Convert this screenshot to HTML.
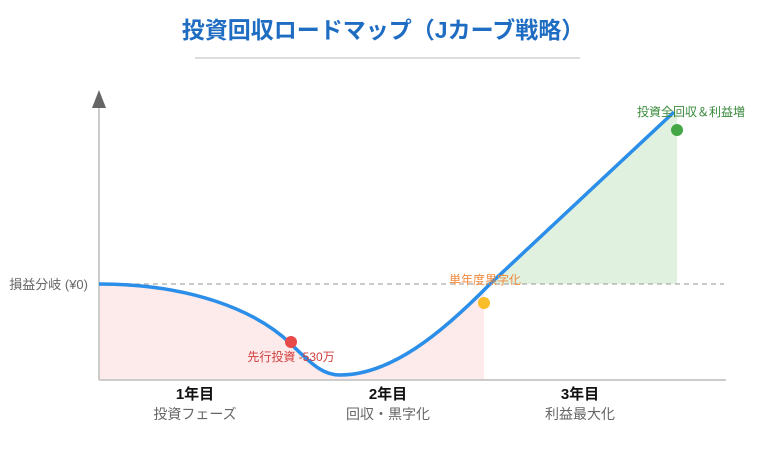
<!DOCTYPE html>
<html><head><meta charset="utf-8"><style>
body{margin:0;background:#fff;}
svg{display:block;font-family:"Liberation Sans","Noto Sans CJK JP",sans-serif;}
</style></head><body>
<svg width="759" height="449" viewBox="0 0 759 449">
<text x="383" y="38" text-anchor="middle" font-size="23" font-weight="bold" fill="#1f6dc2">投資回収ロードマップ（Jカーブ戦略）</text>
<line x1="195" y1="58" x2="580" y2="58" stroke="#ddd" stroke-width="2"/>
<clipPath id="c"><rect x="99" y="200" width="385" height="180"/></clipPath>
<path clip-path="url(#c)" d="M99,284 C190,284 255,310 290,343 C315,368 325,375 340,375 C390,375 440,335 490,284 L490,380 L99,380 Z" fill="#fdeaea"/>
<path d="M490,284 L677,110 L677,284 Z" fill="#e0f1df"/>
<line x1="99" y1="284" x2="724" y2="284" stroke="#aaa" stroke-width="1.2" stroke-dasharray="5,4"/>
<line x1="99" y1="108" x2="99" y2="380" stroke="#ccc" stroke-width="2"/>
<polygon points="92,108 106,108 99,90" fill="#666"/>
<line x1="99" y1="380" x2="726" y2="380" stroke="#ccc" stroke-width="2"/>
<path d="M99,284 C190,284 255,310 290,343 C315,368 325,375 340,375 C390,375 440,335 490,284 L674,112" fill="none" stroke="#2b8ee8" stroke-width="3.5"/>
<circle cx="291" cy="342" r="6" fill="#e84a4a"/>
<circle cx="484" cy="303" r="6" fill="#f9bd2a"/>
<circle cx="677" cy="130" r="6" fill="#43a745"/>
<text x="291" y="361" text-anchor="middle" font-size="12" fill="#d23c3c">先行投資 -530万</text>
<text x="485" y="284" text-anchor="middle" font-size="12" fill="#f08a3c">単年度黒字化</text>
<text x="691" y="116" text-anchor="middle" font-size="12" fill="#3a8a3c">投資全回収＆利益増</text>
<text x="88" y="289" text-anchor="end" font-size="13" fill="#666">損益分岐 (¥0)</text>
<g text-anchor="middle">
<text x="195" y="399" font-size="15" font-weight="bold" fill="#111">1年目</text>
<text x="195" y="419" font-size="14" fill="#666">投資フェーズ</text>
<text x="388" y="399" font-size="15" font-weight="bold" fill="#111">2年目</text>
<text x="388" y="419" font-size="14" fill="#666">回収・黒字化</text>
<text x="580" y="399" font-size="15" font-weight="bold" fill="#111">3年目</text>
<text x="580" y="419" font-size="14" fill="#666">利益最大化</text>
</g>
</svg>
</body></html>
